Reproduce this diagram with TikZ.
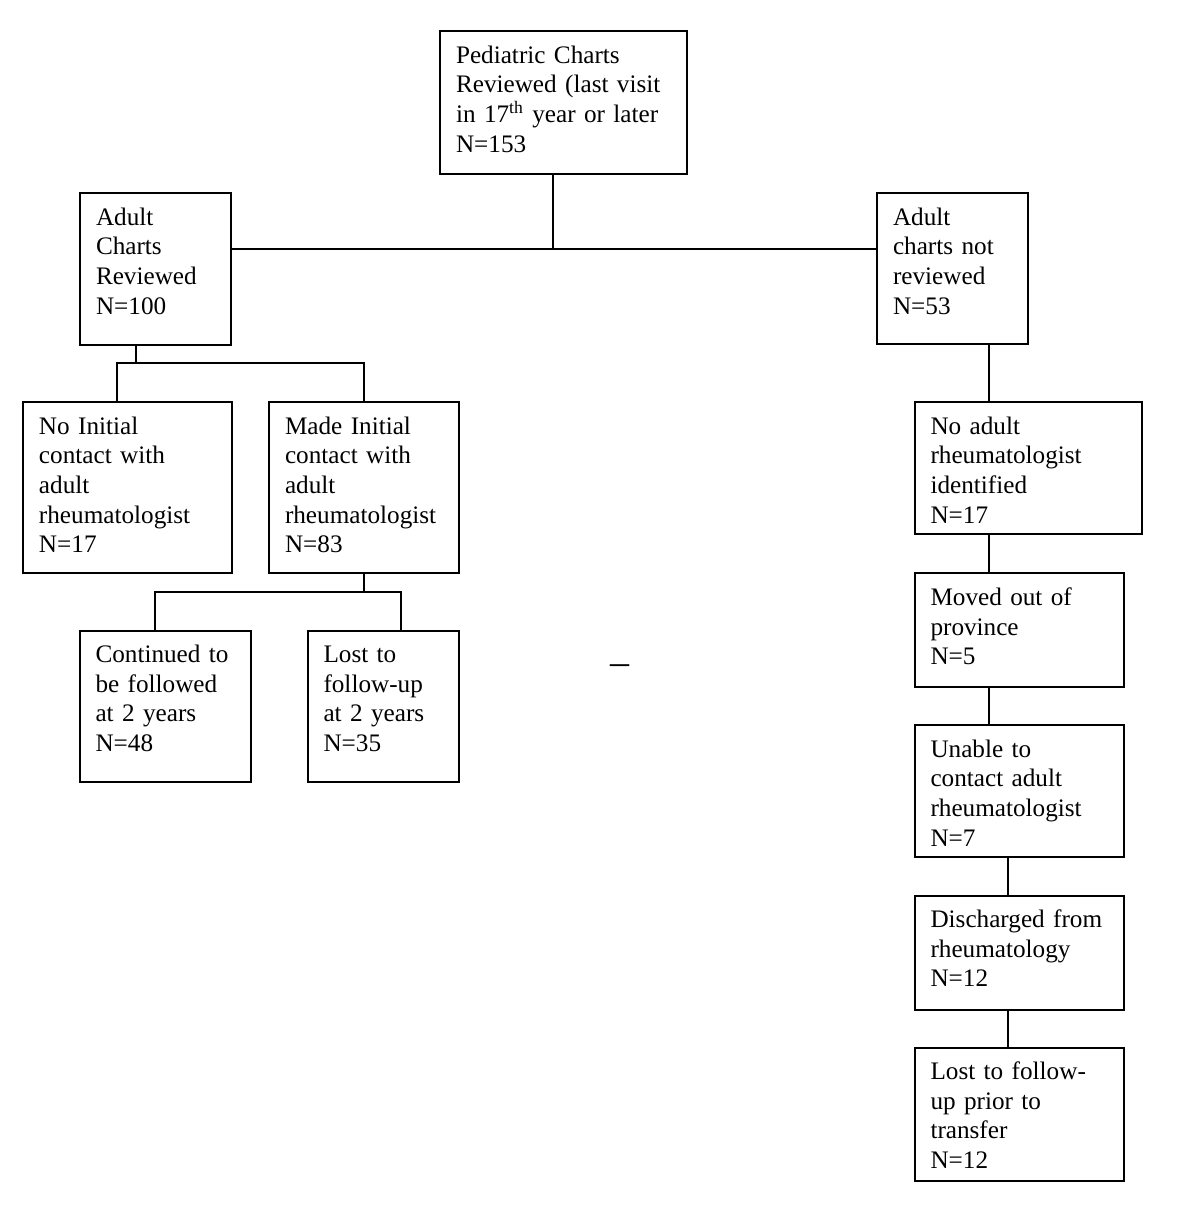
\documentclass[tikz,border=0pt]{standalone}
\usepackage{fontspec}
\setmainfont{Liberation Serif}
\usepackage{tikz}
\begin{document}
\begin{tikzpicture}[x=0.5pt, y=-0.5pt,
    chartbox/.style 2 args={draw, line width=1pt, anchor=north west,
      inner xsep=8pt, inner ysep=0pt, align=left,
      font=\fontsize{12.6}{14.85}\selectfont,
      text width=#1, text height=16pt, text depth=#2},
    link/.style={line width=1pt}]
          \fill[white] (0,0) rectangle (1200,1205);
          \node[chartbox={107.5pt}{55.5pt}] (pediatric) at (439,30)
            {Pediatric Charts\\Reviewed (last visit\\in 17\textsuperscript{th} year or later\\N=153};
          \node[chartbox={59.5pt}{60pt}] (adultrev) at (79,192)
            {Adult\\Charts\\Reviewed\\N=100};
          \node[chartbox={59.5pt}{59.5pt}] (notrev) at (876,192)
            {Adult\\charts not\\reviewed\\N=53};
          \node[chartbox={88.5pt}{69.5pt}] (noinit) at (22,401)
            {No Initial\\contact with\\adult\\rheumatologist\\N=17};
          \node[chartbox={79pt}{69.5pt}] (madeinit) at (268,401)
            {Made Initial\\contact with\\adult\\rheumatologist\\N=83};
          \node[chartbox={69.75pt}{59.5pt}] (cont) at (78.5,629.5)
            {Continued to\\be followed\\at 2 years\\N=48};
          \node[chartbox={59.8pt}{59.5pt}] (lost2) at (306.5,629.5)
            {Lost to\\follow-up\\at 2 years\\N=35};
          \node[chartbox={97.5pt}{50pt}] (noident) at (913.5,401)
            {No adult\\rheumatologist\\identified\\N=17};
          \node[chartbox={88.5pt}{40.7pt}] (moved) at (913.5,572.3)
            {Moved out of\\province\\N=5};
          \node[chartbox={88.5pt}{50pt}] (unable) at (913.5,724)
            {Unable to\\contact adult\\rheumatologist\\N=7};
          \node[chartbox={88.5pt}{41pt}] (disch) at (913.5,894.5)
            {Discharged from\\rheumatology\\N=12};
          \node[chartbox={88.5pt}{50.5pt}] (lostprior) at (913.5,1046.5)
            {Lost to follow-\\up prior to\\transfer\\N=12};
          \node[anchor=base, font=\fontsize{19}{20}\selectfont] (dash) at (619.5,674.5) {–};
          \coordinate (topsplit) at (553,249);
          \coordinate (leftsplit) at (136,363);
          \coordinate (midsplit) at (363,591.5);
          \draw[link] (pediatric.south -| topsplit) -- (topsplit);
          \draw[link] (adultrev.east |- topsplit) -- (notrev.west |- topsplit);
          \draw[link] (adultrev.south -| leftsplit) -- (leftsplit);
          \draw[link] (noinit.north -| 117,0) |- (madeinit.north |- leftsplit) -- (madeinit.north);
          \draw[link] (madeinit.south) -- (madeinit.south |- midsplit);
          \draw[link] (cont.north -| 155,0) |- (401,591.5) -- (lost2.north -| 401,0);
          \draw[link] (notrev.south -| 989,0) -- (noident.north -| 989,0);
          \draw[link] (noident.south -| 989,0) -- (moved.north -| 989,0);
          \draw[link] (moved.south -| 989,0) -- (unable.north -| 989,0);
          \draw[link] (unable.south -| 1008,0) -- (disch.north -| 1008,0);
          \draw[link] (disch.south -| 1008,0) -- (lostprior.north -| 1008,0);
\end{tikzpicture}
\end{document}
